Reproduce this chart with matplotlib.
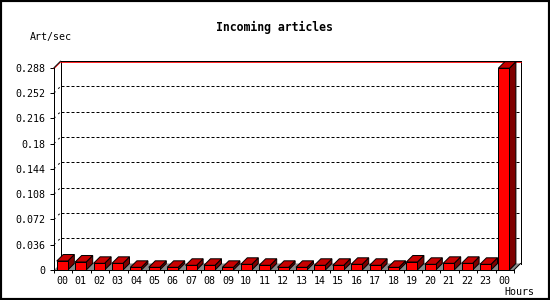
import matplotlib
matplotlib.use('Agg')
import matplotlib.pyplot as plt
from matplotlib.patches import Polygon, Rectangle

# data
hours = ['00', '01', '02', '03', '04', '05', '06', '07', '08', '09', '10', '11',
         '12', '13', '14', '15', '16', '17', '18', '19', '20', '21', '22', '23', '00']
art_per_sec = [0.0128, 0.0114, 0.0095, 0.0095, 0.0038, 0.0038, 0.0038, 0.0067,
               0.0067, 0.0038, 0.0081, 0.0067, 0.0038, 0.0038, 0.0067, 0.0067,
               0.0081, 0.0067, 0.0038, 0.0114, 0.0081, 0.0095, 0.0095, 0.0081,
               0.2873]
y_ticks = [0, 0.036, 0.072, 0.108, 0.144, 0.18, 0.216, 0.252, 0.288]
y_tick_labels = ['0', '0.036', '0.072', '0.108', '0.144', '0.18', '0.216', '0.252', '0.288']

W, H = 550, 300
fig = plt.figure(figsize=(W / 100, H / 100), dpi=100)
fig.patch.set_facecolor('white')

# front plane of the 3d box, in pixels
px_l, px_r, px_t, px_b = 54, 514, 67.7, 270
ax = fig.add_axes([px_l / W, 1 - px_b / H, (px_r - px_l) / W, (px_b - px_t) / H])
n = len(hours)
ymax = y_ticks[-1]
ax.set_xlim(0, n)
ax.set_ylim(0, ymax)
ax.set_facecolor('none')

# depth of the fake 3d effect, converted to data units
depth = 6.5
dx = depth * n / (px_r - px_l)
dy = depth * ymax / (px_b - px_t)
px_y = ymax / (px_b - px_t)

mono = 'DejaVu Sans Mono'
lw = 0.72

for s in ['top', 'right']:
    ax.spines[s].set_visible(False)
for s in ['left', 'bottom']:
    ax.spines[s].set_linewidth(lw)
    ax.spines[s].set_zorder(6)

# floor
ax.add_patch(Polygon([(0, 0), (n, 0), (n + dx, dy), (dx, dy)], closed=True,
                     fc='#8a8a8a', ec='none', zorder=1, clip_on=False))
ax.plot([n, n + dx], [0, dy], color='black', lw=lw, zorder=2, clip_on=False)

# back wall + side wall edges
ax.plot([dx, dx], [dy, ymax + dy], color='black', lw=lw, zorder=2, clip_on=False)
ax.plot([n + dx, n + dx], [dy, ymax + dy], color='black', lw=lw, zorder=2, clip_on=False)
ax.plot([dx, n + dx], [ymax + dy - px_y, ymax + dy - px_y], color='red', lw=0.6, zorder=2, clip_on=False)
ax.plot([dx, n + dx], [ymax + dy, ymax + dy], color='black', lw=lw, zorder=2, clip_on=False)
ax.plot([0, dx], [ymax - px_y, ymax + dy - px_y], color='red', lw=0.6, zorder=2, clip_on=False)
ax.plot([0, dx], [ymax, ymax + dy], color='black', lw=lw, zorder=2, clip_on=False)

# dotted grid on back wall and left wall
for t in y_ticks[1:-1]:
    ax.plot([dx, n + dx], [t + dy, t + dy], color='black', lw=lw,
            linestyle=(0, (3, 2)), zorder=2, clip_on=False)
    ax.plot([0, dx], [t, t + dy], color='black', lw=lw,
            linestyle=(0, (2, 4)), zorder=2, clip_on=False)

# bars
bw = 0.6
for i, v in enumerate(art_per_sec):
    x0 = i + 0.15
    ax.add_patch(Polygon([(x0 + bw, 0), (x0 + bw + dx, dy), (x0 + bw + dx, v + dy), (x0 + bw, v)],
                         closed=True, fc='#800000', ec='black', lw=lw, zorder=3, clip_on=False))
    ax.add_patch(Polygon([(x0, v), (x0 + bw, v), (x0 + bw + dx, v + dy), (x0 + dx, v + dy)],
                         closed=True, fc='#c80000', ec='black', lw=lw, zorder=3, clip_on=False))
    ax.add_patch(Rectangle((x0, 0), bw, v, fc='#ff0000', ec='black', lw=lw, zorder=4, clip_on=False))

# ticks
ax.set_yticks(y_ticks)
ax.set_yticklabels(y_tick_labels, fontfamily=mono, fontsize=7.2)
ax.tick_params(axis='y', direction='out', length=2.9, width=lw, pad=3.4)
ax.set_xticks(range(n + 1))
ax.set_xticklabels([])
ax.tick_params(axis='x', which='major', direction='out', length=2.2, width=lw)
ax.set_xticks([i + 0.45 for i in range(n)], minor=True)
ax.set_xticklabels(hours, minor=True, fontfamily=mono, fontsize=7.2)
ax.tick_params(axis='x', which='minor', length=0, pad=4.6)

# texts
fig.text(274 / W, 1 - 27 / H, 'Incoming articles', fontfamily=mono, fontweight='bold',
         fontsize=8.3, ha='center', va='center')
fig.text(30 / W, 1 - 37 / H, 'Art/sec', fontfamily=mono, fontsize=7.2, ha='left', va='center')
fig.text(504 / W, 1 - 292 / H, 'Hours', fontfamily=mono, fontsize=7.2, ha='left', va='center')

# image border
fig.add_artist(Rectangle((0, 0), 1, 1, transform=fig.transFigure, fill=False,
                         ec='black', lw=3))

fig.savefig('out.png', dpi=100)
